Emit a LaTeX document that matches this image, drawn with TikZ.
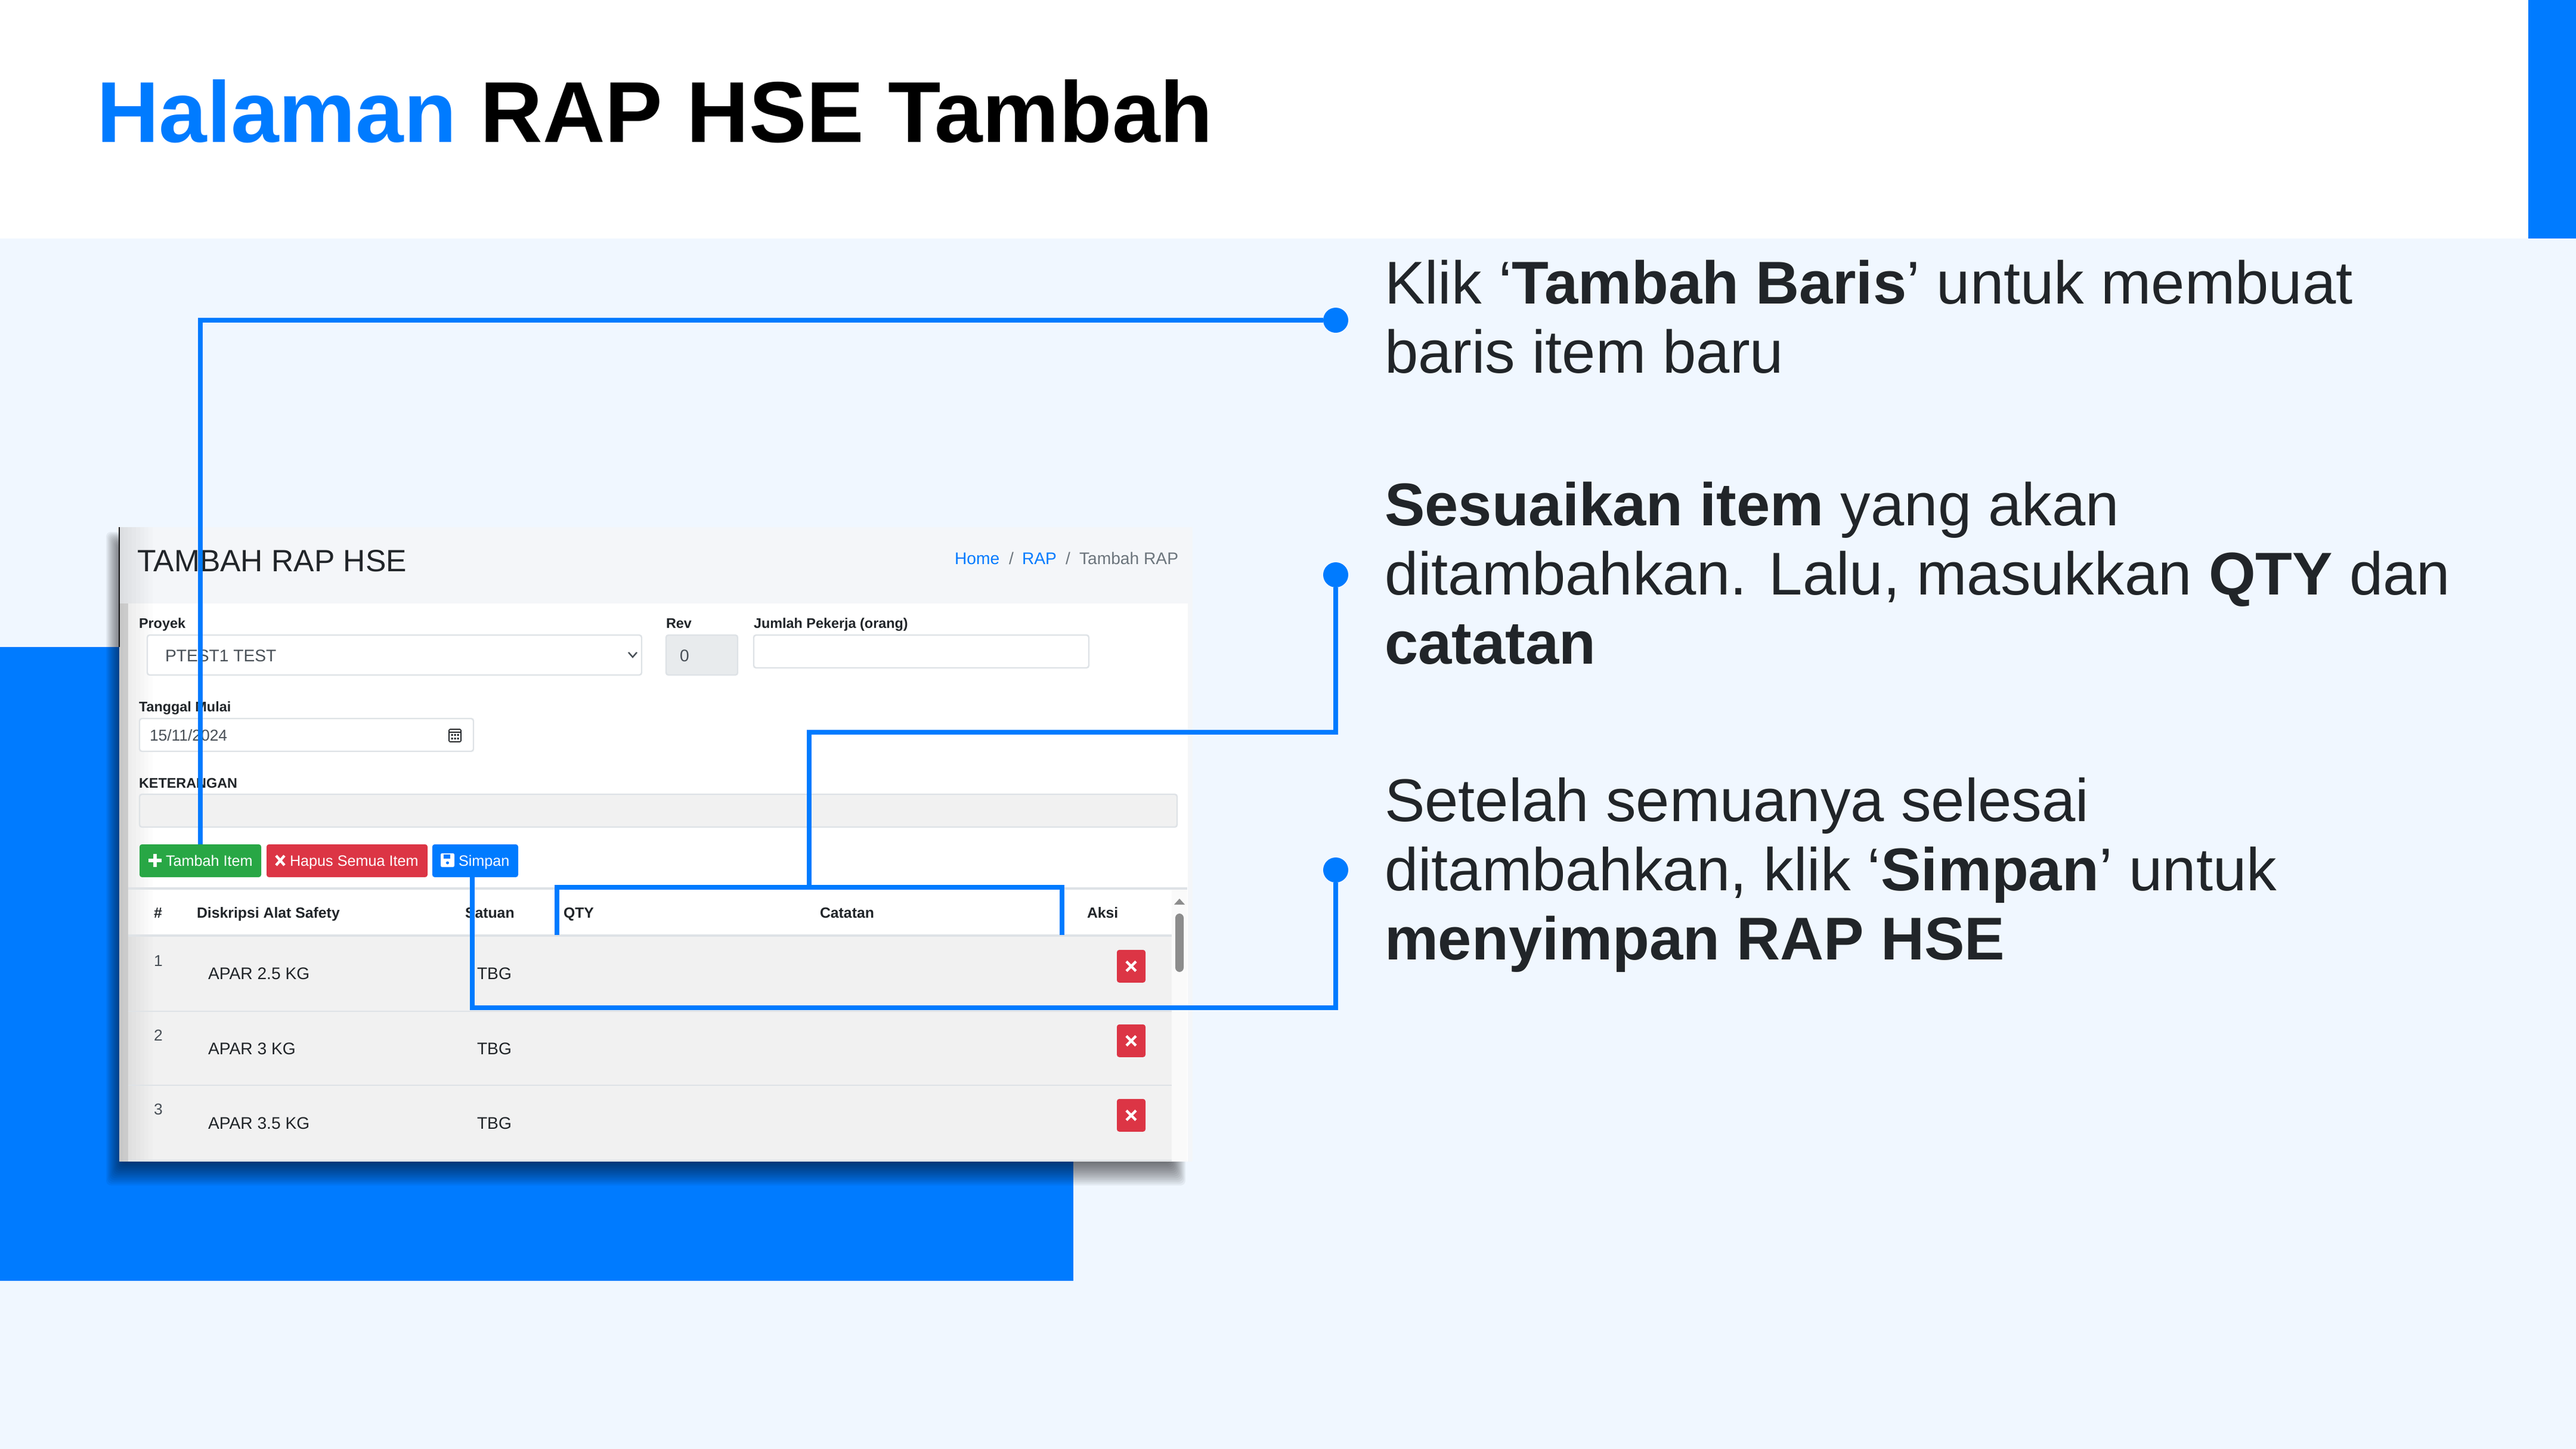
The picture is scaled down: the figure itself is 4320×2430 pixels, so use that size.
\documentclass[tikz,border=0pt]{standalone}
\usepackage{fontspec}
\usetikzlibrary{calc}
\setmainfont{Liberation Sans}
\definecolor{mainblue}{HTML}{007BFF}
\definecolor{pagebg}{HTML}{F0F7FF}
\definecolor{headbg}{HTML}{F4F6F9}
\definecolor{inkdark}{HTML}{212529}
\definecolor{inkgray}{HTML}{495057}
\definecolor{crumbgray}{HTML}{6C757D}
\definecolor{rulegray}{HTML}{DEE2E6}
\definecolor{rowgray}{HTML}{F1F1F1}
\definecolor{btngreen}{HTML}{28A745}
\definecolor{btnred}{HTML}{DC3545}

\begin{document}
\begin{tikzpicture}[
	x=0.25pt,
	y=-0.25pt,
	every node/.style={inner sep=0pt, outer sep=0pt},
	shot/.style={anchor=base west, font=\fontsize{#1}{#1}\selectfont, text=inkdark},
	shot/.default=7.05,
	label/.style={anchor=base west, font=\bfseries\fontsize{5.85}{6}\selectfont, text=inkdark},
	headlabel/.style={anchor=base west, font=\bfseries\fontsize{6.2}{6}\selectfont, text=inkdark},
	btn/.style={anchor=north west, minimum height=13.75pt, rounded corners=1pt},
	btntext/.style={anchor=base west, font=\fontsize{6.3}{6.4}\selectfont, text=white},
	field/.style={draw=rulegray, line width=0.6pt, rounded corners=1pt},
	delbtn/.style={anchor=north west, fill=btnred, rounded corners=1pt, minimum width=12pt, minimum height=13.7pt},
	crossmark/.style={draw=white, line width=1.1pt},
	callout/.style={anchor=base west, align=left, text=inkdark, font=\fontsize{25.3}{29}\selectfont},
	dotnode/.style={circle, fill=mainblue, minimum size=10.5pt},
	link/.style={draw=mainblue, line width=2pt}
	]
	\useasboundingbox (0,0) rectangle (4320,2430);
	
	% Slide background
	\fill[white] (0,0) rectangle (4320,400);
	\fill[pagebg] (0,400) rectangle (4320,2430);
	\fill[mainblue] (4240,0) rectangle (4320,400);
	\fill[mainblue] (0,1085) rectangle (1800,2148);
	
	% Title
	\node[anchor=base west, font=\bfseries\fontsize{36.2}{38}\selectfont] (title) at (162,238)
	{\textcolor{mainblue}{Halaman} RAP HSE Tambah};
	
	% Screenshot shadow
	\foreach \i in {0,...,13}
	\fill[black, opacity=0.05, rounded corners=2pt]
	(178+2*\i,892+2*\i) rectangle (1988-2*\i,1988-3*\i);
	
	% Screenshot
	\fill[headbg] (200,884) rectangle (2000,1012);
	\fill[headbg] (1992,1012) rectangle (2000,1948);
	\fill[white] (200,1012) rectangle (1992,1948);
	\fill[rowgray] (215,1569) rectangle (1965,1948);
	\fill[black!2] (1965,1490) rectangle (1991,1948);
	\fill[black!12] (200,1012) rectangle (215,1948);
	\foreach \i in {1,...,8}
	\fill[black, opacity=0.012] (200,884) rectangle (200+7*\i,1948);
	\draw[black, line width=0.4pt] (200,884) -- (200,1085);
	\node[shot=12.9] (pagetitle) at (230,958) {TAMBAH RAP HSE};
	\node[shot, text=mainblue] (crumbhome) at (1601,946) {Home};
	\node[shot, text=crumbgray] (crumbsepa) at (1692,946) {/};
	\node[shot, text=mainblue] (crumbrap) at (1714,946) {RAP};
	\node[shot, text=crumbgray] (crumbsepb) at (1787,946) {/};
	\node[shot, text=crumbgray] (crumbnow) at (1810,946) {Tambah RAP};
	
	% Form
	\node[label] (lblproyek) at (233,1053) {Proyek};
	\node[label] (lblrev) at (1117,1053) {Rev};
	\node[label] (lbljumlah) at (1264,1053) {Jumlah Pekerja (orang)};
	\filldraw[field, fill=white] (247,1065) rectangle (1076,1132);
	\filldraw[field, fill=rulegray!70] (1117,1065) rectangle (1237,1132);
	\filldraw[field, fill=white] (1264,1065) rectangle (1826,1120);
	\node[shot, text=inkgray] (valproyek) at (277,1109) {PTEST1 TEST};
	\node[shot, text=inkgray] (valrev) at (1140,1109) {0};
	\draw[inkgray, line width=0.6pt] (1054,1094) -- (1061,1102) -- (1068,1094);
	\node[label] (lbltanggal) at (233,1193) {Tanggal Mulai};
	\filldraw[field, fill=white] (234,1205) rectangle (794,1260);
	\node[shot=6.6, text=inkgray] (valtanggal) at (251,1242) {15/11/2024};
	\draw[inkdark, line width=0.4pt, rounded corners=0.5pt] (753,1223) rectangle (773,1244);
	\draw[inkdark, line width=0.4pt] (753,1228) -- (773,1228);
	\foreach \cx in {758,763,768}
	\fill[inkdark] (\cx-1.5,1231) rectangle (\cx+1.5,1234)
	(\cx-1.5,1237) rectangle (\cx+1.5,1240);
	\node[label] (lblket) at (233,1321) {KETERANGAN};
	\filldraw[field, fill=rowgray] (234,1332) rectangle (1974,1387);
	
	% Buttons
	\node[btn, fill=btngreen, minimum width=51pt] (tambah) at (234,1416) {};
	\node[btn, fill=btnred, minimum width=67.5pt] (hapus) at (447,1416) {};
	\node[btn, fill=mainblue, minimum width=36pt] (simpan) at (725,1416) {};
	\node[btntext] (tambahtxt) at (278,1452) {Tambah Item};
	\node[btntext] (hapustxt) at (486,1452) {Hapus Semua Item};
	\node[btntext] (simpantxt) at (769,1452) {Simpan};
	\draw[white, line width=1.3pt] (249,1443) -- (271,1443) (260,1432) -- (260,1454);
	\draw[crossmark] (463,1435) -- (477,1451) (477,1435) -- (463,1451);
	\fill[white, rounded corners=0.6pt] (739,1431) rectangle (762,1454);
	\fill[mainblue] (744,1433) rectangle (755,1440);
	\fill[mainblue] (750.5,1447) circle (2.5);
	
	% Table
	\draw[rulegray, line width=0.8pt] (215,1490) -- (1991,1490);
	\draw[rulegray, line width=0.8pt] (215,1569) -- (1965,1569);
	\draw[rulegray, line width=0.4pt] (215,1696) -- (1965,1696);
	\draw[rulegray, line width=0.4pt] (215,1820) -- (1965,1820);
	\draw[rulegray, line width=0.4pt] (215,1946) -- (1965,1946);
	\node[headlabel] (headno) at (258,1539) {\#};
	\node[headlabel] (headdesc) at (330,1539) {Diskripsi Alat Safety};
	\node[headlabel] (headsat) at (780,1539) {Satuan};
	\node[headlabel] (headqty) at (945,1539) {QTY};
	\node[headlabel] (headcat) at (1375,1539) {Catatan};
	\node[headlabel] (headaksi) at (1823,1539) {Aksi};
	\foreach \i/\ynum/\ytxt/\ybtn/\item in {
		1/1620/1642/1593/APAR 2.5 KG,
		2/1745/1768/1718/APAR 3 KG,
		3/1869/1893/1843/APAR 3.5 KG}{
		\node[shot=6.6, text=inkgray] (num\i) at (258,\ynum) {\i};
		\node[shot] (item\i) at (349,\ytxt) {\item};
		\node[shot] (unit\i) at (800,\ytxt) {TBG};
		\node[delbtn] (del\i) at (1873,\ybtn) {};
		\draw[crossmark] ($(del\i.center)+(-8,-8)$) -- ($(del\i.center)+(8,8)$)
		($(del\i.center)+(8,-8)$) -- ($(del\i.center)+(-8,8)$);
	}
	\fill[black!45] (1978,1507) -- (1987,1517) -- (1969,1517) -- cycle;
	\fill[black!45, rounded corners=1.8pt] (1971,1532) rectangle (1985,1630);
	
	% Callouts
	\node[dotnode] (dota) at (2240,537) {};
	\node[dotnode] (dotb) at (2240,964) {};
	\node[dotnode] (dotc) at (2240,1459) {};
	\node[callout] (texta) at (2322,625)
	{Klik ‘\textbf{Tambah Baris}’ untuk membuat\\baris item baru};
	\node[callout] (textb) at (2322,1113)
	{\textbf{Sesuaikan item} yang akan\\ditambahkan. Lalu, masukkan \textbf{QTY} dan\\\textbf{catatan}};
	\node[callout] (textc) at (2322,1609)
	{Setelah semuanya selesai\\ditambahkan, klik ‘\textbf{Simpan}’ untuk\\\textbf{menyimpan RAP HSE}};
	
	% Connectors
	\coordinate (qtyleft) at (934,1568);
	\coordinate (qtyright) at (1781,1568);
	\coordinate (qtytop) at (1357,1488);
	\coordinate (simpanfoot) at (792,1471);
	\path[link] (dota) -| (tambah.north);
	\path[link] (dotb) |- (1357,1228) -- (qtytop);
	\path[link] (qtyleft) |- (qtytop) -| (qtyright);
	\path[link] (dotc) |- (simpanfoot |- 0,1690) -- (simpanfoot);
\end{tikzpicture}
\end{document}
